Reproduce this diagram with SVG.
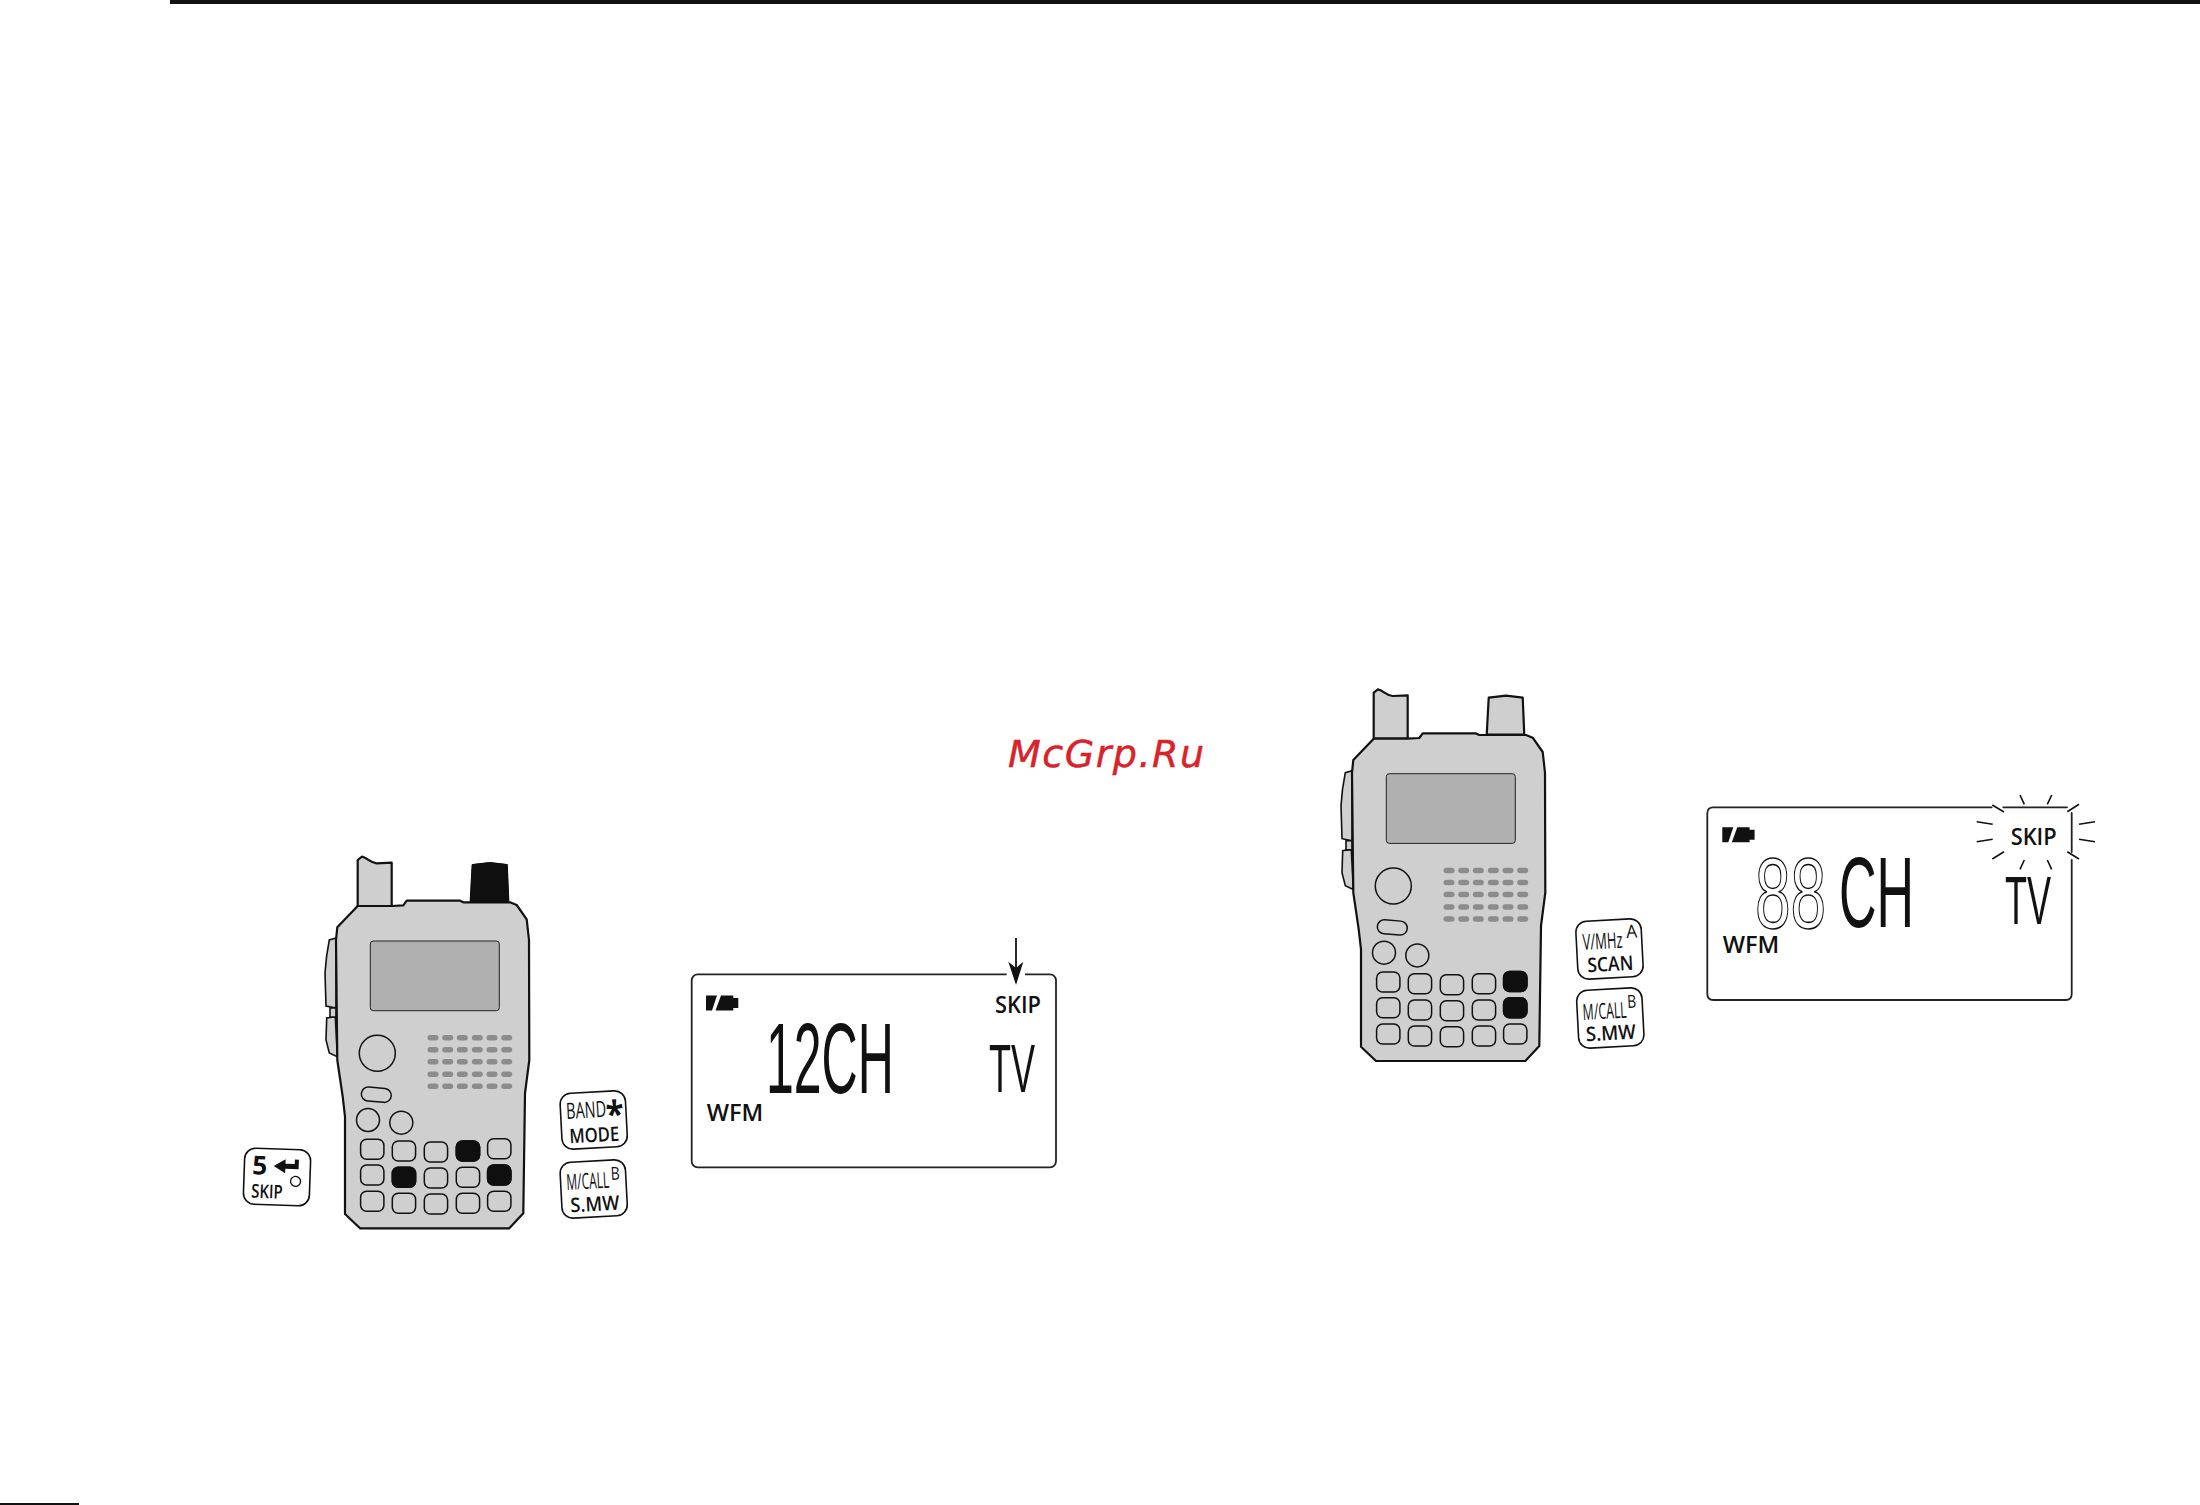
<svg xmlns="http://www.w3.org/2000/svg" width="2200" height="1505" viewBox="0 0 2200 1505">
<style>
.body{fill:#cfcfcf;stroke:#111;stroke-width:2.2;stroke-linejoin:round}
.thin{fill:#cfcfcf;stroke:#111;stroke-width:1.6}
.screen{fill:#b0b0b0;stroke:#222;stroke-width:1}
.grille{fill:#8c8c8c}
.key{fill:#cfcfcf;stroke:#111;stroke-width:1.5}
.dark{fill:#0f0f0f;stroke:#0f0f0f;stroke-width:1.5}
.cap{fill:#fff;stroke:#111;stroke-width:1.6}
.lcd{fill:none;stroke:#222;stroke-width:1.8;stroke-linecap:round}
.ray{stroke:#111;stroke-width:1.6;fill:none}
text{font-family:"Open Sans","Liberation Sans",sans-serif;fill:#111}
.sb{font-weight:600}
.seg{font-family:"Liberation Sans",sans-serif;fill:#111}
.ghost{font-family:"Liberation Sans",sans-serif;fill:#fff;stroke:#111;stroke-width:1.5}
</style>
<defs>
<g id="radio">
<path class="thin" d="M336 938L329.3 940Q326 956 325 973L326 1006L336 1008ZM335.300 1016.700L326.700 1018L326 1040L329.300 1053L337.300 1056.700Z"/>
<path class="thin" d="M330 1008V1017H336V1008Z"/>
<path class="body" d="M357.700 906V860L362 856.700C368 858 370 863 376.700 863.300L391.700 862.700V906Z"/>
<path class="body" d="M470.700 902L472.700 865L490 863L506.700 865L508.300 902Z"/>
<path class="body" d="M357.700 906H391.700L403.300 905.300L406.700 900.700H460L463.300 902.300H510L516.700 905L526.700 919.300L529 940L529.300 1060L525 1093.300L523.300 1213.300L509.300 1228.300H360L345 1214V1116.700L342.700 1096.700L337.300 1060L336 940L337.300 927.300Z"/>
<rect class="screen" x="370.300" y="941" width="129" height="69.700" rx="3"/>
<circle class="key" cx="377.300" cy="1053.300" r="18"/>
<rect class="key" x="361.300" y="1087.700" width="30" height="14" rx="7" transform="rotate(5 376.300 1094.700)"/>
<circle class="key" cx="368" cy="1120" r="11.500"/>
<circle class="key" cx="401.300" cy="1122.700" r="11.500"/>
<g class="grille">
<rect x="427.500" y="1035" width="11" height="5.500" rx="2.750"/><rect x="442.200" y="1035" width="11" height="5.500" rx="2.750"/><rect x="456.800" y="1035" width="11" height="5.500" rx="2.750"/><rect x="471.800" y="1035" width="11" height="5.500" rx="2.750"/><rect x="486.500" y="1035" width="11" height="5.500" rx="2.750"/><rect x="501.200" y="1035" width="11" height="5.500" rx="2.750"/>
<rect x="427.500" y="1047" width="11" height="5.500" rx="2.750"/><rect x="442.200" y="1047" width="11" height="5.500" rx="2.750"/><rect x="456.800" y="1047" width="11" height="5.500" rx="2.750"/><rect x="471.800" y="1047" width="11" height="5.500" rx="2.750"/><rect x="486.500" y="1047" width="11" height="5.500" rx="2.750"/><rect x="501.200" y="1047" width="11" height="5.500" rx="2.750"/>
<rect x="427.500" y="1059" width="11" height="5.500" rx="2.750"/><rect x="442.200" y="1059" width="11" height="5.500" rx="2.750"/><rect x="456.800" y="1059" width="11" height="5.500" rx="2.750"/><rect x="471.800" y="1059" width="11" height="5.500" rx="2.750"/><rect x="486.500" y="1059" width="11" height="5.500" rx="2.750"/><rect x="501.200" y="1059" width="11" height="5.500" rx="2.750"/>
<rect x="427.500" y="1071.500" width="11" height="5.500" rx="2.750"/><rect x="442.200" y="1071.500" width="11" height="5.500" rx="2.750"/><rect x="456.800" y="1071.500" width="11" height="5.500" rx="2.750"/><rect x="471.800" y="1071.500" width="11" height="5.500" rx="2.750"/><rect x="486.500" y="1071.500" width="11" height="5.500" rx="2.750"/><rect x="501.200" y="1071.500" width="11" height="5.500" rx="2.750"/>
<rect x="427.500" y="1083.500" width="11" height="5.500" rx="2.750"/><rect x="442.200" y="1083.500" width="11" height="5.500" rx="2.750"/><rect x="456.800" y="1083.500" width="11" height="5.500" rx="2.750"/><rect x="471.800" y="1083.500" width="11" height="5.500" rx="2.750"/><rect x="486.500" y="1083.500" width="11" height="5.500" rx="2.750"/><rect x="501.200" y="1083.500" width="11" height="5.500" rx="2.750"/>
</g>
<g class="key">
<rect x="360.600" y="1139.300" width="23.300" height="20" rx="6"/><rect x="392.300" y="1141" width="23.300" height="20" rx="6"/><rect x="424.300" y="1142" width="23.300" height="20" rx="6"/><rect x="456.300" y="1141" width="23.300" height="20" rx="6"/><rect x="487.600" y="1138.700" width="23.300" height="20" rx="6"/>
<rect x="360.600" y="1165" width="23.300" height="20" rx="6"/><rect x="392.300" y="1167.300" width="23.300" height="20" rx="6"/><rect x="424.300" y="1168" width="23.300" height="20" rx="6"/><rect x="456.300" y="1167.300" width="23.300" height="20" rx="6"/><rect x="487.600" y="1165" width="23.300" height="20" rx="6"/>
<rect x="360.600" y="1191.300" width="23.300" height="20" rx="6"/><rect x="392.300" y="1193.300" width="23.300" height="20" rx="6"/><rect x="424.300" y="1194" width="23.300" height="20" rx="6"/><rect x="456.300" y="1193.300" width="23.300" height="20" rx="6"/><rect x="487.600" y="1191.300" width="23.300" height="20" rx="6"/>
</g>
</g>
<path id="battery" fill="#111" d="M706 995.500H717L712 1010.500H706ZM721 995.500H733.300V998H738.300V1008H733.300V1010.500H715.500Z"/>
</defs>

<rect id="background" width="2200" height="1505" fill="#fff"/>
<rect id="top-rule" x="170" y="0" width="2030" height="4" fill="#111"/>
<rect id="bottom-rule" x="0" y="1503" width="79" height="2" fill="#111"/>
<text id="watermark" x="1008" y="766.700" font-size="38" font-style="italic" textLength="196" lengthAdjust="spacing" style="font-family:'DejaVu Sans',sans-serif;fill:#d8232a;stroke:#d8232a;stroke-width:.5">McGrp.Ru</text>

<g id="radio-left">
<use href="#radio"/>
<path class="dark" d="M470.700 901.500L472.700 865L490 863L506.700 865L508.300 901.500Z"/>
<rect class="dark" x="456.300" y="1141" width="23.300" height="20" rx="6"/>
<rect class="dark" x="392.300" y="1167.300" width="23.300" height="20" rx="6"/>
<rect class="dark" x="487.600" y="1165" width="23.300" height="20" rx="6"/>
</g>

<g id="key-skip" transform="rotate(2 277 1177)">
<rect class="cap" x="244" y="1149" width="66" height="56" rx="11"/>
<text x="252" y="1175" font-size="26" font-weight="700" textLength="15" lengthAdjust="spacingAndGlyphs">5</text>
<path fill="#111" d="M273.300 1166L285 1159V1163.500H294.300V1159H298.300V1168.500H285V1173Z"/>
<circle cx="295.700" cy="1180.700" r="5" fill="#fff" stroke="#111" stroke-width="1.300"/>
<text class="sb" x="251.700" y="1198.500" font-size="19" textLength="31.500" lengthAdjust="spacingAndGlyphs">SKIP</text>
</g>

<g id="key-band" transform="rotate(-3 593.700 1120)">
<rect class="cap" x="561" y="1092" width="65.400" height="56" rx="11"/>
<text x="566.700" y="1117.500" font-size="22.500" textLength="40" lengthAdjust="spacingAndGlyphs">BAND</text>
<text x="606" y="1128" font-size="36" font-weight="700" textLength="18" lengthAdjust="spacingAndGlyphs">*</text>
<text class="sb" x="568.500" y="1142" font-size="20" textLength="50" lengthAdjust="spacingAndGlyphs">MODE</text>
</g>

<g id="key-mcall-left" transform="rotate(-3 593.700 1189)">
<rect class="cap" x="561" y="1161" width="65.400" height="56" rx="11"/>
<text x="566.700" y="1188.500" font-size="22" textLength="43" lengthAdjust="spacingAndGlyphs">M/CALL</text>
<text x="611.500" y="1181" font-size="18" textLength="9" lengthAdjust="spacingAndGlyphs">B</text>
<text class="sb" x="569.500" y="1211" font-size="20" textLength="49" lengthAdjust="spacingAndGlyphs">S.MW</text>
</g>

<g id="lcd-left">
<rect class="lcd" x="691.700" y="974.300" width="364.300" height="193" rx="6"/>
<rect x="1006.700" y="972" width="18.300" height="5" fill="#fff"/>
<use href="#battery"/>
<text class="sb" x="995" y="1012.500" font-size="24" textLength="46" lengthAdjust="spacingAndGlyphs">SKIP</text>
<text class="sb" x="706.700" y="1121" font-size="23" textLength="56.600" lengthAdjust="spacingAndGlyphs">WFM</text>
<text class="seg" transform="translate(766 1093) scale(.5 1)" font-size="100">12CH</text>
<text class="seg" transform="translate(989 1091.700) scale(.53 1)" font-size="68">TV</text>
</g>

<g id="connectors">
<path d="M1016 938V970" stroke="#111" stroke-width="1.800" fill="none"/>
<path fill="#111" d="M1008.300 961.700L1016 968L1023.300 961.700L1016 985Z"/>
</g>

<g id="radio-right" transform="translate(1016 -167.300)">
<use href="#radio"/>
<rect class="dark" x="487.600" y="1138.700" width="23.300" height="20" rx="6"/>
<rect class="dark" x="487.600" y="1165" width="23.300" height="20" rx="6"/>
</g>

<g id="key-scan" transform="rotate(-3 1609.500 949)">
<rect class="cap" x="1576.800" y="920" width="65.400" height="58" rx="11"/>
<text x="1583" y="948.500" font-size="22" textLength="40" lengthAdjust="spacingAndGlyphs">V/MHz</text>
<text x="1627" y="939" font-size="18" textLength="11" lengthAdjust="spacingAndGlyphs">A</text>
<text class="sb" x="1586.500" y="971" font-size="20" textLength="46" lengthAdjust="spacingAndGlyphs">SCAN</text>
</g>

<g id="key-mcall-right" transform="rotate(-3 1610.300 1018)">
<rect class="cap" x="1577.600" y="989" width="65.400" height="58" rx="11"/>
<text x="1583" y="1018.500" font-size="22" textLength="44" lengthAdjust="spacingAndGlyphs">M/CALL</text>
<text x="1628" y="1009" font-size="18" textLength="9" lengthAdjust="spacingAndGlyphs">B</text>
<text class="sb" x="1585" y="1040" font-size="20" textLength="50" lengthAdjust="spacingAndGlyphs">S.MW</text>
</g>

<g id="lcd-right">
<path class="lcd" d="M1991.700 807.300H1713.300Q1707.300 807.300 1707.300 813.300V994Q1707.300 1000 1713.300 1000H2065.700Q2071.700 1000 2071.700 994V860M2003.300 807.300H2067M2071.700 813V852"/>
<use href="#battery" transform="translate(1016.300 -168.300)"/>
<text class="sb" x="2010.700" y="845" font-size="24" textLength="46" lengthAdjust="spacingAndGlyphs">SKIP</text>
<text class="sb" x="1722.700" y="953.300" font-size="23" textLength="56.600" lengthAdjust="spacingAndGlyphs">WFM</text>
<text class="ghost" transform="translate(1755 927.500) scale(.64 1)" font-size="100">88</text>
<text class="seg" transform="translate(1839 926.700) scale(.52 1)" font-size="100">CH</text>
<text class="seg" transform="translate(2005 924) scale(.53 1)" font-size="68">TV</text>
<g class="ray">
<path d="M1992.300 805L2004 812M2020 795L2024.300 804.300M2051.700 795L2047.300 804.300M2079 804.300L2067.300 811.700M1976.700 821.700L1992.700 824.300M1976.700 841.700L1992.700 839.300M2095 821.700L2079 824.300M2095 841.700L2079 839.300M1992.300 859L2004 851.700M2020 869.300L2024.300 860M2051.700 869.300L2047.300 860M2079 859L2067.300 851.700"/>
</g>
</g>
</svg>
